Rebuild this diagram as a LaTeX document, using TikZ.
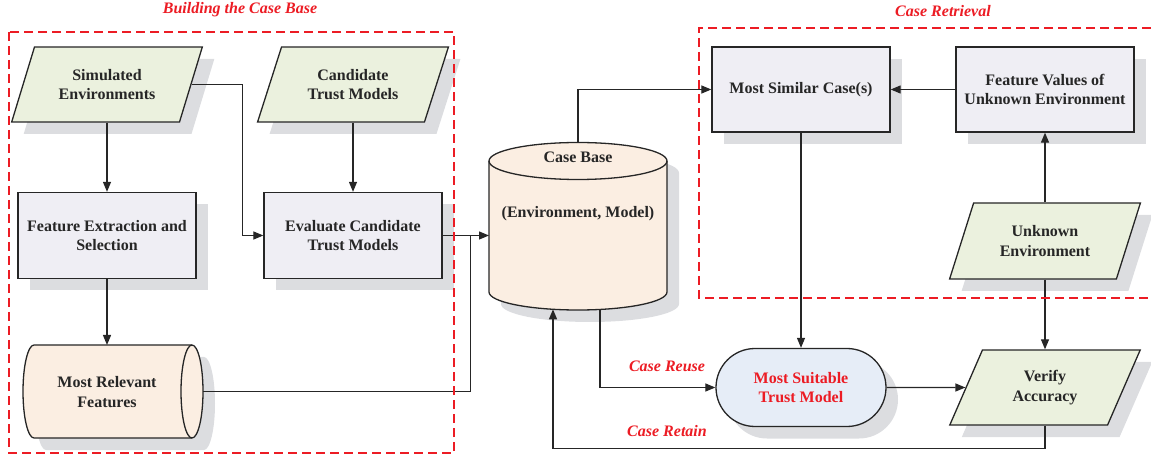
\documentclass[tikz,border=0pt]{standalone}
\usepackage{fontspec}
\setmainfont{Liberation Serif}
\usetikzlibrary{shapes.geometric,shapes.misc,shadows,arrows.meta,calc}

\definecolor{envgreen}{HTML}{EBF1DE}
\definecolor{procgray}{HTML}{EFEEF4}
\definecolor{storepeach}{HTML}{FBEEE2}
\definecolor{resblue}{HTML}{E6EDF7}
\definecolor{shadegray}{HTML}{DCDDE0}
\definecolor{markred}{HTML}{EC1C24}
\definecolor{ink}{HTML}{262626}

\tikzset{
  txt/.style={text=ink, font=\fontsize{16}{19.5}\selectfont\bfseries, align=center, inner sep=0pt},
  base/.style={txt, draw=ink, line width=1.3pt},
  shade/.style={drop shadow={shadow xshift=12pt, shadow yshift=-12pt, fill=shadegray, opacity=1}},
  process/.style={base, shade, rectangle, fill=procgray, minimum width=178pt, minimum height=86pt},
  io/.style={base, shade, trapezium, trapezium left angle=63.7, trapezium right angle=116.3,
             trapezium stretches=true, fill=envgreen, minimum width=191pt, minimum height=75pt},
  term/.style={base, shade, rounded rectangle, fill=resblue, text=markred, minimum width=170pt, minimum height=78pt},
  link/.style={draw=ink, line width=1.2pt},
  flow/.style={link, -{Triangle[length=10pt,width=8pt]}},
  region/.style={draw=markred, line width=1.2pt, dash pattern=on 9pt off 5pt},
  tag/.style={text=markred, font=\fontsize{16}{19.5}\selectfont\bfseries\itshape, inner sep=0pt},
  storeline/.style={draw=ink, line width=1.3pt, fill=storepeach},
}

\begin{document}
\begin{tikzpicture}[x=1pt,y=1pt]
\useasboundingbox (0,0) rectangle (1151,458);

% ---------- building the case base ----------
\node[io] (sim) at (107,373.5) {Simulated\\Environments};
\node[io] (cand) at (353,373.5) {Candidate\\Trust Models};
\node[process] (fes) at (107,222.5) {Feature Extraction and\\Selection};
\node[process] (eval) at (353,222.5) {Evaluate Candidate\\Trust Models};

% feature store, a cylinder lying on its side
\fill[shadegray, shift={(12,-12)}] (192,113) -- (34,113)
  arc[start angle=90, end angle=270, x radius=11, y radius=46.5] -- (192,20)
  arc[start angle=-90, end angle=90, x radius=11, y radius=46.5] -- cycle;
\path[storeline] (192,113) -- (34,113)
  arc[start angle=90, end angle=270, x radius=11, y radius=46.5] -- (192,20)
  arc[start angle=-90, end angle=90, x radius=11, y radius=46.5] -- cycle;
\draw[ink, line width=1.3pt] (192,113) arc[start angle=90, end angle=270, x radius=11, y radius=46.5];
\node[txt] (mrf) at (107,66) {Most Relevant\\Features};
\coordinate (mrfn) at (107,113);
\coordinate (mrfe) at (203,66.5);

% case base, an upright cylinder
\fill[shadegray, shift={(12,-12)}] (489,297) -- (489,166)
  arc[start angle=180, end angle=360, x radius=89, y radius=18] -- (667,297)
  arc[start angle=0, end angle=180, x radius=89, y radius=18.5] -- cycle;
\path[storeline] (489,297) -- (489,166)
  arc[start angle=180, end angle=360, x radius=89, y radius=18] -- (667,297)
  arc[start angle=0, end angle=180, x radius=89, y radius=18.5] -- cycle;
\draw[ink, line width=1.3pt] (489,297) arc[start angle=180, end angle=360, x radius=89, y radius=18.5];
\node[txt] (cbhead) at (578,301) {Case Base};
\node[txt] (cbbody) at (578,244) {(Environment, Model)};
\coordinate (cbtop) at (578,315.5);
\coordinate (cbw) at (489,222.5);
\coordinate (cbbl) at (553,148.7);
\coordinate (cbbr) at (600,148.6);
\coordinate (merge) at (470.5,222.5);

% ---------- case retrieval ----------
\node[process, minimum height=85pt] (msc) at (801,368.5) {Most Similar Case(s)};
\node[process, minimum height=85pt] (fv) at (1045,368.5) {Feature Values of\\Unknown Environment};
\node[io, minimum height=76pt] (ue) at (1045,217) {Unknown\\Environment};
\node[io] (va) at (1045,70.5) {Verify\\Accuracy};
\node[term] (mst) at (801,70.5) {Most Suitable\\Trust Model};

% ---------- connectors ----------
\draw[flow] (sim.center |- sim.south) -- (fes.north);
\draw[flow] (cand.center |- cand.south) -- (eval.north);
\draw[flow] (sim.east) -- ++(51,0) |- (eval.west);
\draw[flow] (fes.south) -- (mrfn);
\draw[flow] (eval.east) -- (cbw);
\draw[link] (mrfe) -| (merge);
\draw[flow] (cbtop) |- (msc.west);
\draw[flow] (fv.west) -- (msc.east);
\draw[flow] (ue.center |- ue.north) -- (fv.south);
\draw[flow] (ue.center |- ue.south) -- (va.center |- va.north);
\draw[flow] (msc.south) -- (mst.north);
\draw[flow] (mst.east) -- (va.west);
\draw[flow] (cbbr) |- (mst.west);
\draw[flow] (va.center |- va.south) -- ++(0,-23) -| (cbbl);

\node[tag] (reuse) at (667,92) {Case Reuse};
\node[tag] (retain) at (667,27) {Case Retain};

% ---------- dashed regions ----------
\draw[region] (9,426) rectangle (454,5);
\draw[region] (1151,430) -- (699,430) -- (699,160) -- (1151,160);
\node[tag] (buildtitle) at (240,448) {Building the Case Base};
\node[tag] (retrtitle) at (943,447) {Case Retrieval};
\end{tikzpicture}
\end{document}
